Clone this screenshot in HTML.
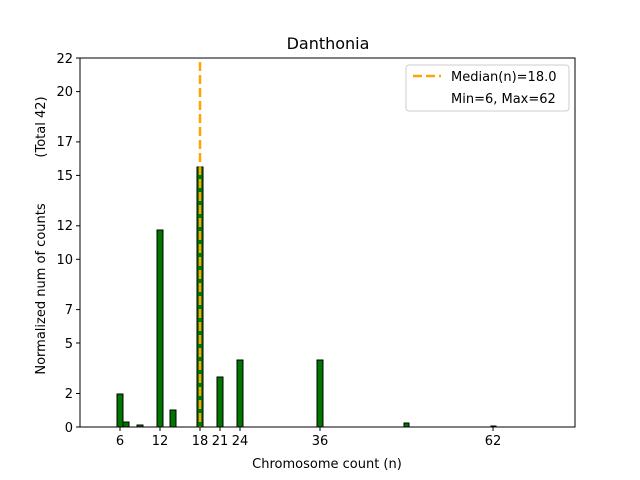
<!DOCTYPE html>
<html><head><style>body{margin:0;background:#fff}svg{display:block}text{font-family:"DejaVu Sans","Liberation Sans",sans-serif;font-size:13px;fill:#000}</style></head>
<body>
<svg width="640" height="480" xmlns="http://www.w3.org/2000/svg">
<rect width="640" height="480" fill="#fff"/>
<g fill="#007500" stroke="#000" stroke-width="1">
<rect x="117" y="394" width="6" height="33"/>
<rect x="123" y="422" width="6" height="5"/>
<rect x="137" y="425" width="6" height="2"/>
<rect x="157" y="230" width="6" height="197"/>
<rect x="170" y="410" width="6" height="17"/>
<rect x="197" y="167" width="6" height="260"/>
<rect x="217" y="377" width="6" height="50"/>
<rect x="237" y="360" width="6" height="67"/>
<rect x="317" y="360" width="6" height="67"/>
<rect x="404" y="423" width="5" height="4"/>
<rect x="491" y="426" width="5" height="1"/>
</g>
<line x1="200" y1="62" x2="200" y2="427" stroke="#ffa500" stroke-width="2.5" stroke-dasharray="9,4"/>
<rect x="80" y="58" width="495" height="369" fill="none" stroke="#000" stroke-width="1"/>
<g stroke="#000">
<line x1="120" y1="427" x2="120" y2="431"/><line x1="160" y1="427" x2="160" y2="431"/><line x1="200" y1="427" x2="200" y2="431"/><line x1="220" y1="427" x2="220" y2="431"/><line x1="240" y1="427" x2="240" y2="431"/><line x1="320" y1="427" x2="320" y2="431"/><line x1="493" y1="427" x2="493" y2="431"/>
<line x1="76" y1="427" x2="80" y2="427"/><line x1="76" y1="393.5" x2="80" y2="393.5"/><line x1="76" y1="343" x2="80" y2="343"/><line x1="76" y1="309.6" x2="80" y2="309.6"/><line x1="76" y1="259.3" x2="80" y2="259.3"/><line x1="76" y1="225.8" x2="80" y2="225.8"/><line x1="76" y1="175.4" x2="80" y2="175.4"/><line x1="76" y1="141.9" x2="80" y2="141.9"/><line x1="76" y1="91.6" x2="80" y2="91.6"/><line x1="76" y1="58" x2="80" y2="58"/>
</g>
<g text-anchor="middle">
<text x="120" y="445">6</text><text x="160" y="445">12</text><text x="200" y="445">18</text><text x="220" y="445">21</text><text x="240" y="445">24</text><text x="320" y="445">36</text><text x="493" y="445">62</text>
<text x="327" y="468">Chromosome count (n)</text>
<text x="328" y="49" style="font-size:16px">Danthonia</text>
</g>
<g text-anchor="end">
<text x="73" y="432">0</text><text x="73" y="398">2</text><text x="73" y="348">5</text><text x="73" y="314">7</text><text x="73" y="264">10</text><text x="73" y="230">12</text><text x="73" y="180">15</text><text x="73" y="146">17</text><text x="73" y="96">20</text><text x="73" y="63">22</text>
</g>
<text transform="translate(45,289) rotate(-90)" text-anchor="middle">Normalized num of counts</text>
<text transform="translate(45,127) rotate(-90)" text-anchor="middle">(Total 42)</text>
<rect x="406" y="65" width="163" height="46" rx="3" fill="#fff" stroke="#ccc"/>
<line x1="413" y1="76" x2="441" y2="76" stroke="#ffa500" stroke-width="2.5" stroke-dasharray="9,4"/>
<text x="451" y="81">Median(n)=18.0</text>
<text x="451" y="103">Min=6, Max=62</text>
</svg>
</body></html>
